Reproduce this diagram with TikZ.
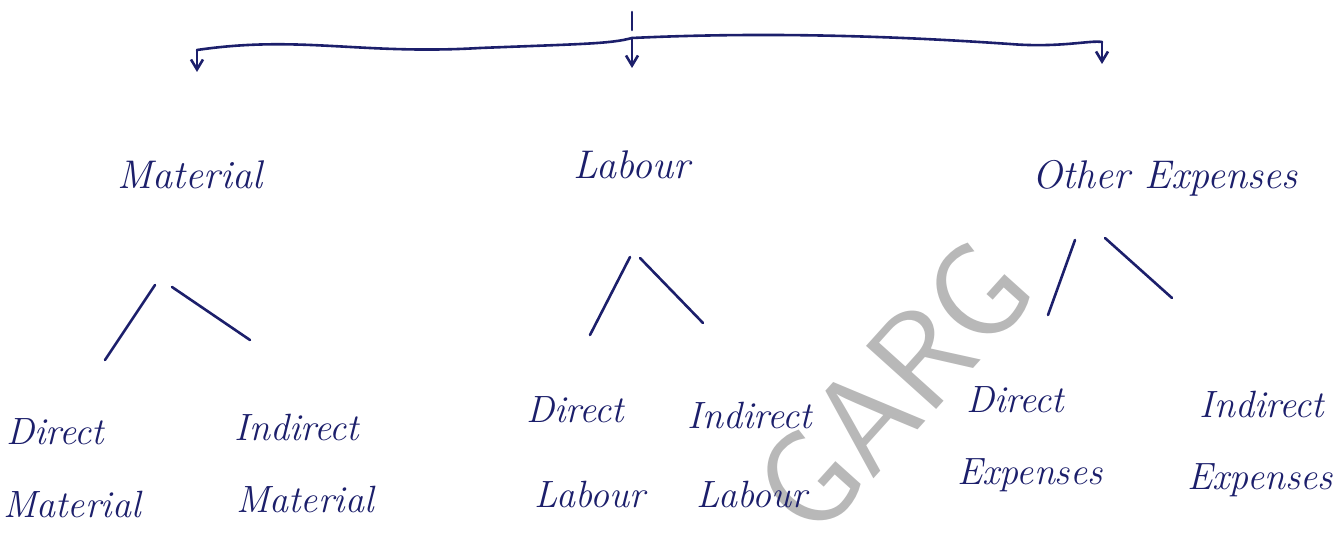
\documentclass[tikz,border=0pt]{standalone}
\usepackage{fontspec}
\usetikzlibrary{arrows.meta}
\definecolor{ink}{HTML}{1C1F6B}
\definecolor{mark}{HTML}{B8B8B8}
\tikzset{
  word/.style={text=ink,font=\fontsize{19}{22}\selectfont\itshape,inner sep=1pt},
  head/.style={word,font=\fontsize{20}{24}\selectfont\itshape},
  stroke/.style={draw=ink,line width=1.3pt,line cap=round},
  down/.style={stroke,-{Straight Barb[length=5pt,width=6pt]}},
  wmark/.style={text=mark,font=\fontsize{68}{80}\sffamily,rotate=48}
}
\begin{document}
\begin{tikzpicture}[x=0.5pt,y=-0.5pt]
  \useasboundingbox (0,0) rectangle (1343,539);
  \node[wmark] (stamp) at (893,388) {GARG};
  % top bracket
  \coordinate (top) at (632,12);
  \coordinate (hub) at (632,38);
  \coordinate (lend) at (197,50);
  \coordinate (rend) at (1102,42);
  \draw[stroke] (top) -- ++(0,18);
  \draw[stroke] (lend) .. controls (300,35) and (360,55) .. (480,48)
    .. controls (580,44) and (610,44) .. (hub);
  \draw[stroke] (hub) .. controls (800,30) and (950,40) .. (1010,44)
    .. controls (1060,48) and (1090,40) .. (rend);
  \node[head] (mat) at (190,175) {Material};
  \node[head] (lab) at (632,165) {Labour};
  \node[head] (oth) at (1165,178) {Other Expenses};
  \draw[down] (lend) -- ++(0,22);
  \draw[down] (hub) -- ++(0,30);
  \draw[down] (rend) -- ++(0,22);
  % material branch
  \node[word] (dmat) at (55,432) {Direct};
  \node[word] (imat) at (297,428) {Indirect};
  \node[word] (dmat2) at (72,505) {Material};
  \node[word] (imat2) at (305,500) {Material};
  \coordinate (m1) at (155,285);
  \coordinate (m2) at (172,287);
  \draw[stroke] (m1) -- (105,360);
  \draw[stroke] (m2) -- (250,340);
  % labour branch
  \node[word] (dlab) at (575,410) {Direct};
  \node[word] (ilab) at (750,416) {Indirect};
  \node[word] (dlab2) at (590,495) {Labour};
  \node[word] (ilab2) at (752,495) {Labour};
  \coordinate (l1) at (630,257);
  \coordinate (l2) at (640,258);
  \draw[stroke] (l1) -- (590,335);
  \draw[stroke] (l2) -- (703,323);
  % other expenses branch
  \node[word] (doth) at (1015,400) {Direct};
  \node[word] (ioth) at (1262,405) {Indirect};
  \node[word] (doth2) at (1030,475) {Expenses};
  \node[word] (ioth2) at (1260,480) {Expenses};
  \coordinate (o1) at (1075,240);
  \coordinate (o2) at (1105,238);
  \draw[stroke] (o1) -- (1048,315);
  \draw[stroke] (o2) -- (1172,298);
\end{tikzpicture}
\end{document}
